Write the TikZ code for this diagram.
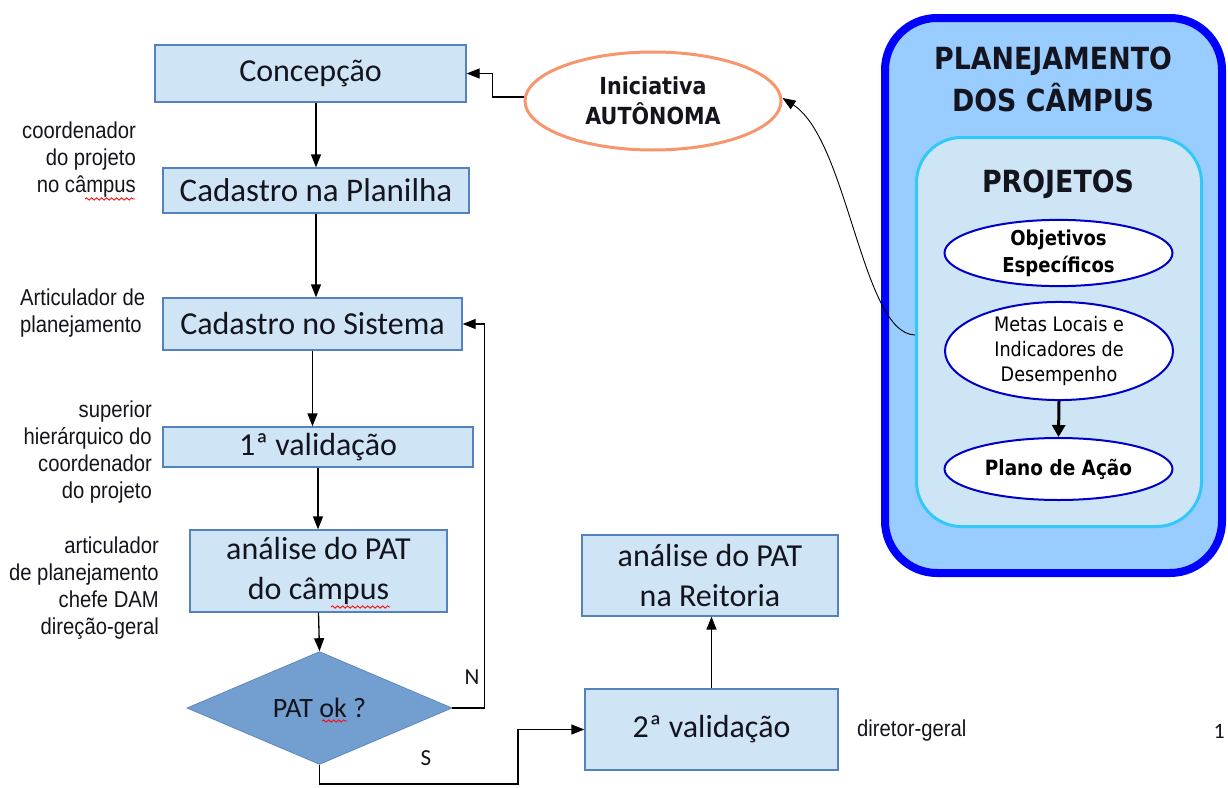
\documentclass[tikz,border=0pt]{standalone}
\usepackage{fontspec}
\setmainfont{Carlito}
\newfontfamily\lab{Liberation Sans}[FakeStretch=0.88]
\newfontfamily\tah{DejaVu Sans}[FakeStretch=0.88]
\usetikzlibrary{shapes.geometric,arrows.meta,calc,decorations.pathmorphing}
\definecolor{boxfill}{RGB}{207,228,244}
\definecolor{boxline}{RGB}{84,130,190}
\definecolor{diafill}{RGB}{114,158,208}
\definecolor{diline}{RGB}{95,135,190}
\definecolor{orng}{RGB}{247,150,110}
\definecolor{outerfill}{RGB}{153,204,255}
\definecolor{outerline}{RGB}{0,0,255}
\definecolor{innerfill}{RGB}{206,229,245}
\definecolor{innerline}{RGB}{51,200,250}
\definecolor{ellline}{RGB}{0,0,200}
\definecolor{txt}{RGB}{20,20,30}
\begin{document}
\begin{tikzpicture}[x=1pt,y=-1pt,
  box/.style={draw=boxline, fill=boxfill, line width=1.3pt, inner sep=0pt, align=center,
    font=\fontsize{32}{40}\selectfont, text=txt},
  arr/.style={-{Triangle[length=13pt,width=10pt]}, line width=1.3pt},
  lbl/.style={font=\lab\fontsize{23}{27}\selectfont, text=txt, inner sep=0pt},
  ell/.style={ellipse, draw=ellline, fill=white, line width=2pt, inner sep=0pt,
    minimum width=228pt, align=center, text=black},
  wavy/.style={draw=red, line width=0.8pt, decorate,
    decoration={snake, segment length=5pt, amplitude=1.2pt}}
]
\useasboundingbox (0,0) rectangle (1228,787);

% flowchart boxes
\node[box, minimum width=311pt, minimum height=57pt] (conc) at (310.5,73.5) {Concepção};
\node[box, minimum width=306pt, minimum height=45pt, font=\fontsize{33}{40}\selectfont] (plan) at (316,190.5) {Cadastro na Planilha};
\node[box, minimum width=299pt, minimum height=52pt] (sist) at (312.5,324) {Cadastro no Sistema};
\node[box, minimum width=310pt, minimum height=40pt] (val1) at (318,447) {1ª validação};
\node[box, minimum width=257pt, minimum height=82pt] (anal) at (318.5,571) {análise do PAT\\do câmpus};
\node[diamond, draw=diline, fill=diafill, line width=0.8pt, inner sep=0pt,
  minimum width=265pt, minimum height=112pt, text=txt,
  font=\fontsize{28}{30}\selectfont] (dia) at (319.5,708) {PAT ok ?};
\node[box, minimum width=253pt, minimum height=81pt] (val2) at (711.5,729.5) {2ª validação};
\node[box, minimum width=256pt, minimum height=81pt] (reit) at (710,575.5) {análise do PAT\\na Reitoria};

% initiative ellipse
\node[ellipse, draw=orng, fill=white, line width=3pt, inner sep=0pt,
  minimum width=256pt, minimum height=98pt, align=center,
  font=\tah\bfseries\fontsize{23.5}{30}\selectfont, text=txt] (ini) at (653,101) {Iniciativa\\AUTÔNOMA};

% right panel
\draw[draw=outerline, fill=outerfill, line width=8pt, rounded corners=52pt]
  (885,18) rectangle (1222,573);
\node[font=\tah\bfseries\fontsize{30.5}{42}\selectfont, align=center, text=txt, inner sep=0pt]
  (ttl) at (1053,79) {PLANEJAMENTO\\DOS CÂMPUS};
\node[draw=innerline, fill=innerfill, line width=3pt, rounded corners=45pt,
  minimum width=285pt, minimum height=389pt, inner sep=0pt] (inner) at (1059,332) {};
\node[font=\tah\bfseries\fontsize{30.5}{32}\selectfont, text=txt, inner sep=0pt] (proj) at (1058,184) {PROJETOS};
\node[ell, minimum height=66pt, font=\tah\bfseries\fontsize{20.5}{27}\selectfont] (obj) at (1058.5,253) {Objetivos\\Específicos};
\node[ell, minimum height=88pt, font=\tah\fontsize{20}{25}\selectfont] (metas) at (1059,351) {Metas Locais e\\Indicadores de\\Desempenho};
\node[ell, minimum height=62pt, font=\tah\bfseries\fontsize{21}{27}\selectfont] (plano) at (1058.5,469) {Plano de Ação};
\draw[-{Triangle[length=12pt,width=13pt]}, line width=3pt] (metas.south) -- (plano.north);

% side labels
\node[lbl, anchor=east, align=right] (l1) at (136,160) {coordenador\\do projeto\\no câmpus};
\node[lbl, anchor=west, align=left] (l2) at (20,313) {Articulador de\\planejamento};
\node[lbl, anchor=east, align=right] (l3) at (152,452) {superior\\hierárquico do\\coordenador\\do projeto};
\node[lbl, anchor=east, align=right] (l4) at (159,588) {articulador\\de planejamento\\chefe DAM\\direção-geral};
\node[lbl, anchor=west] (l5) at (857,731) {diretor-geral};
\node[font=\fontsize{22}{26}\selectfont, text=txt, anchor=east, inner sep=0pt] (pg) at (1225,731) {1};
\node[font=\fontsize{23}{26}\selectfont, text=txt, inner sep=0pt] (nlab) at (472,677) {N};
\node[font=\fontsize{23}{26}\selectfont, text=txt, inner sep=0pt] (slab) at (426,758) {S};

% spelling underlines
\draw[wavy] (85,199) -- (135,199);
\draw[wavy] (331,607) -- (390,607);
\draw[wavy] (322,721) -- (347,721);

% connectors
\draw[arr] ([yshift=4pt]ini.west) -- ++(-31,0) |- (conc.east);
\draw[arr] (plan.north |- conc.south) -- (plan.north);
\draw[arr] (plan.south) -- (plan.south |- sist.north);
\draw[arr] (sist.south) -- (sist.south |- val1.north);
\draw[arr] (val1.south) -- (val1.south |- anal.north);
\draw[arr] (anal.south) -- (dia.north);
\draw[arr] (dia.east) -- ++(32,0) |- (sist.east);
\coordinate (sj) at (518,784);
\draw[arr] (dia.south) |- (sj) |- (val2.west);
\draw[arr] (val2.north) -- (val2.north |- reit.south);
\coordinate (cs) at (inner.west |- 0,335);
\draw[-{Triangle[length=13pt,width=10pt]}, line width=0.9pt]
  (cs) .. controls (862,334) and (848,140) .. ([yshift=3pt]ini.east);
\end{tikzpicture}
\end{document}
